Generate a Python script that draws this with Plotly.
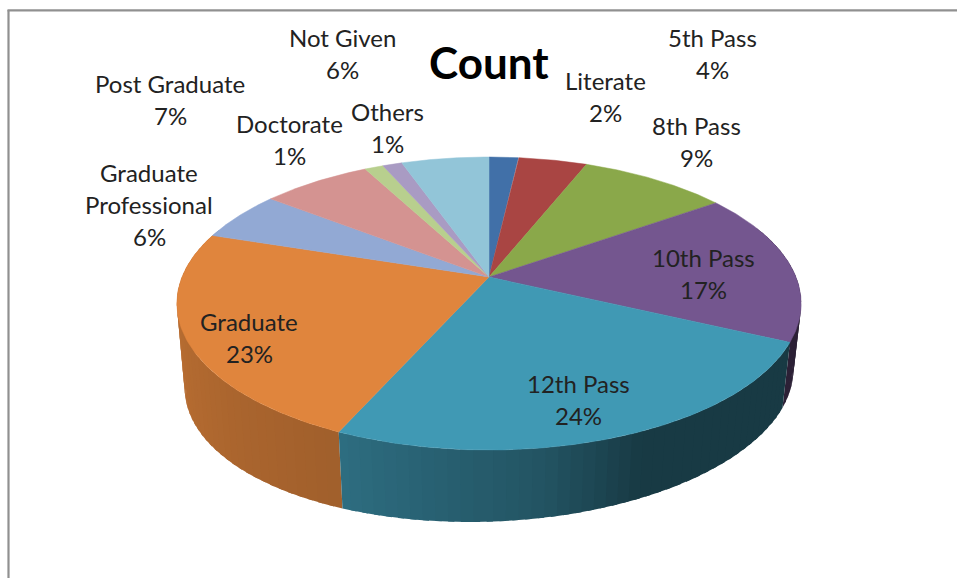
import numpy as np
import plotly.graph_objects as go

# ---- data (share of the whole, in order, clockwise from 12 o'clock)
categories = ["Literate", "5th Pass", "8th Pass", "10th Pass", "12th Pass", "Graduate",
              "Graduate Professional", "Post Graduate", "Doctorate", "Others", "Not Given"]
shares = [1.8, 4.25, 9.15, 16.8, 24.7, 23.3, 5.5, 6.75, 1.15, 1.2, 5.4]
percent_labels = ["2%", "4%", "9%", "17%", "24%", "23%", "6%", "7%", "1%", "1%", "6%"]
chart_title = "Count"

# ---- styles
colors = ["#4170A8", "#A94543", "#8AA84A", "#74568F", "#4099B4", "#E0853D",
          "#92A9D4", "#D49391", "#B8CF8E", "#A99BC3", "#92C5D8"]
FONT = "Lato"
TEXT = "#222222"

# ---- projection of the tilted disc
CX, CY = 489.0, 277.0
K, A, B = 0.181, 141.7, 307.0
S, DROP, SHEAR = 0.975, 76.0, 0.03


def top_xy(theta):
    u, v = np.sin(theta), np.cos(theta)
    d = 1 + K * v
    return CX + B * u / d, CY - A * v / d


def bottom_xy(theta):
    u, v = np.sin(theta), np.cos(theta)
    d = 1 + K * v
    x = CX + S * B * u / d
    y = CY + DROP - S * A * v / d - SHEAR * (x - CX)
    return x, y


def shade(hex_color, f):
    r, g, b = [int(hex_color[i:i + 2], 16) for i in (1, 3, 5)]
    return f"rgb({int(r * f)},{int(g * f)},{int(b * f)})"


edges = np.cumsum([0.0] + shares) / sum(shares) * 2 * np.pi
fig = go.Figure()

# side wall, back to front; neighbouring pieces overlap slightly so no seams show
quads = []
for i, name in enumerate(categories):
    n = max(2, int(np.degrees(edges[i + 1] - edges[i]) / 2))
    ts = np.linspace(edges[i], edges[i + 1], n + 1)
    for t0, t1 in zip(ts[:-1], ts[1:]):
        tm = (t0 + t1) / 2
        if np.cos(tm) < 0.35:
            quads.append((np.cos(tm), i, t0, t1))
quads.sort(key=lambda q: -q[0])
pad = np.radians(0.5)
for _, i, t0, t1 in quads:
    deg = np.degrees((t0 + t1) / 2)
    f = float(np.interp(deg, [100, 156, 172, 204, 260, 290], [0.38, 0.38, 0.55, 0.72, 0.83, 0.83]))
    col = shade(colors[i], f)
    t = np.linspace(max(t0 - pad, edges[i]), min(t1 + pad, edges[i + 1]), 4)
    xt, yt = top_xy(t)
    xb, yb = bottom_xy(t[::-1])
    fig.add_trace(go.Scatter(x=np.r_[xt, xb, xt[0]], y=np.r_[yt, yb, yt[0]], mode="lines",
                             fill="toself", fillcolor=col, line=dict(color=col, width=0),
                             name=categories[i], hoverinfo="name", showlegend=False))

# top face
for i, name in enumerate(categories):
    t = np.linspace(edges[i], edges[i + 1], 120)
    xt, yt = top_xy(t)
    fig.add_trace(go.Scatter(x=np.r_[CX, xt, CX], y=np.r_[CY, yt, CY], mode="lines",
                             fill="toself", fillcolor=colors[i], line=dict(color=colors[i], width=0.5),
                             name=name, hoverinfo="name", showlegend=False))

# labels: category lines then percentage, centred on (x, first-line y)
label_pos = {
    "Literate": (605, 80), "5th Pass": (712, 37), "8th Pass": (696, 125), "10th Pass": (703, 257),
    "12th Pass": (578, 383), "Graduate": (249, 321), "Graduate Professional": (149, 172),
    "Post Graduate": (170, 83), "Doctorate": (289, 123), "Others": (387, 111), "Not Given": (342, 37),
}
annotations = []
for name, pct in zip(categories, percent_labels):
    x, y = label_pos[name]
    lines = ["Graduate", "Professional", pct] if name == "Graduate Professional" else [name, pct]
    for j, line in enumerate(lines):
        annotations.append(dict(x=x, y=y + j * 32.2, text=line, showarrow=False, xref="x", yref="y",
                                xanchor="center", yanchor="middle",
                                font=dict(family=FONT, size=24, color=TEXT)))
annotations.append(dict(x=489, y=62, text=f"<b>{chart_title}</b>", showarrow=False, xref="x", yref="y",
                        xanchor="center", yanchor="middle",
                        font=dict(family=FONT, size=44, color="#000000")))

fig.update_layout(
    width=957, height=578, margin=dict(l=0, r=0, t=0, b=0),
    paper_bgcolor="white", plot_bgcolor="white", showlegend=False,
    xaxis=dict(range=[0, 957], visible=False, fixedrange=True),
    yaxis=dict(range=[578, 0], visible=False, fixedrange=True),
    annotations=annotations,
    shapes=[dict(type="line", xref="x", yref="y", x0=7.5, y0=10.3, x1=957, y1=10.3, line=dict(color="#909090", width=2.2)),
            dict(type="line", xref="x", yref="y", x0=8.5, y0=10, x1=8.5, y1=578, line=dict(color="#909090", width=2.2))],
)
fig.write_html("out.html", config={"displayModeBar": False},
               post_script="document.body.style.margin='0';document.body.style.overflow='hidden';")
